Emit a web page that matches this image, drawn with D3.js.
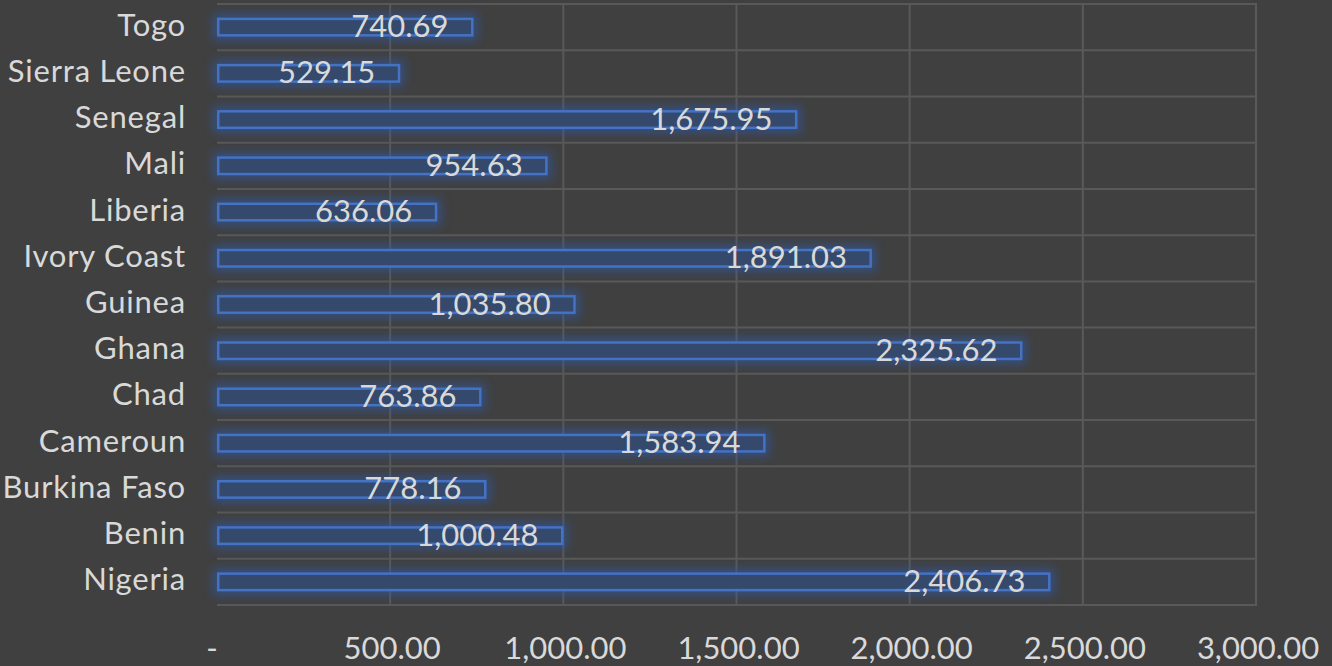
<!DOCTYPE html>
<html>
<head>
<meta charset="utf-8">
<script src="https://cdn.jsdelivr.net/npm/d3@7"></script>
<style>
  html, body { margin: 0; padding: 0; background: #404040; }
  svg { display: block; }
  text { font-family: Lato, "Open Sans", sans-serif; fill: #d9d9d9; }
</style>
</head>
<body>
<div id="chart"></div>
<script>
const countries = ["Togo", "Sierra Leone", "Senegal", "Mali", "Liberia", "Ivory Coast", "Guinea",
                   "Ghana", "Chad", "Cameroun", "Burkina Faso", "Benin", "Nigeria"];
const values = [740.69, 529.15, 1675.95, 954.63, 636.06, 1891.03, 1035.80,
                2325.62, 763.86, 1583.94, 778.16, 1000.48, 2406.73];
const xTicks = [0, 500, 1000, 1500, 2000, 2500, 3000];

const width = 1332;
const height = 666;
const margin = { left: 217, right: 76, top: 4, bottom: 61 };

const data = countries.map((c, i) => ({ country: c, value: values[i] }));

const svg = d3.select("#chart")
    .append("svg")
    .attr("width", width)
    .attr("height", height);

svg.append("rect")
    .attr("width", width)
    .attr("height", height)
    .attr("fill", "#404040");

const defs = svg.append("defs");
const glow = defs.append("filter")
    .attr("id", "glow")
    .attr("x", "-20%").attr("y", "-150%")
    .attr("width", "140%").attr("height", "400%");
glow.append("feGaussianBlur").attr("stdDeviation", 5);

const x = d3.scaleLinear()
    .domain([0, 3000])
    .range([margin.left, width - margin.right]);

const y = d3.scaleBand()
    .domain(countries)
    .range([margin.top, height - margin.bottom])
    .paddingInner(0.59)
    .paddingOuter(0.295);

const gridColor = "#595959";

// vertical gridlines
svg.selectAll(".vgrid")
    .data(xTicks.filter(d => d > 0))
    .join("line")
        .attr("class", "vgrid")
        .attr("x1", d => x(d))
        .attr("x2", d => x(d))
        .attr("y1", margin.top)
        .attr("y2", height - margin.bottom)
        .attr("stroke", gridColor)
        .attr("stroke-width", 2);

// horizontal gridlines at category boundaries
const step = y.step();
svg.selectAll(".hgrid")
    .data(d3.range(countries.length + 1))
    .join("line")
        .attr("class", "hgrid")
        .attr("x1", margin.left)
        .attr("x2", x(3000) + 1)
        .attr("y1", i => margin.top + i * step)
        .attr("y2", i => margin.top + i * step)
        .attr("stroke", gridColor)
        .attr("stroke-width", 2);

// soft glow behind bars
svg.selectAll(".glow")
    .data(data)
    .join("rect")
        .attr("class", "glow")
        .attr("x", x(0) - 4)
        .attr("y", d => y(d.country) - 4)
        .attr("width", d => x(d.value) - x(0) + 8)
        .attr("height", y.bandwidth() + 8)
        .attr("fill", "#2f5aa8")
        .attr("opacity", 0.6)
        .attr("filter", "url(#glow)");

svg.selectAll(".bar")
    .data(data)
    .join("rect")
        .attr("class", "bar")
        .attr("x", x(0) + 1.25)
        .attr("y", d => y(d.country) + 1.25)
        .attr("width", d => x(d.value) - x(0) - 2.5)
        .attr("height", y.bandwidth() - 2.5)
        .attr("fill", "#34496c")
        .attr("stroke", "#4472c4")
        .attr("stroke-width", 2.5);

const fmt = d3.format(",.2f");

svg.selectAll(".val")
    .data(data)
    .join("text")
        .attr("class", "val")
        .attr("x", d => x(d.value) - 25)
        .attr("y", d => y(d.country) + y.bandwidth() / 2 + 10)
        .attr("text-anchor", "end")
        .style("font-size", "31px")
        .text(d => fmt(d.value));

svg.selectAll(".cat")
    .data(data)
    .join("text")
        .attr("class", "cat")
        .attr("x", 186)
        .attr("y", d => y(d.country) + y.bandwidth() / 2 + 8.5)
        .attr("text-anchor", "end")
        .style("font-size", "31px")
        .style("letter-spacing", "0.8px")
        .text(d => d.country);

svg.selectAll(".tick-label")
    .data(xTicks)
    .join("text")
        .attr("class", "tick-label")
        .attr("x", d => d === 0 ? x(d) - 5 : x(d) + 2)
        .attr("y", 659)
        .attr("text-anchor", "middle")
        .style("font-size", "31px")
        .text(d => d === 0 ? "-" : fmt(d));
</script>
</body>
</html>
